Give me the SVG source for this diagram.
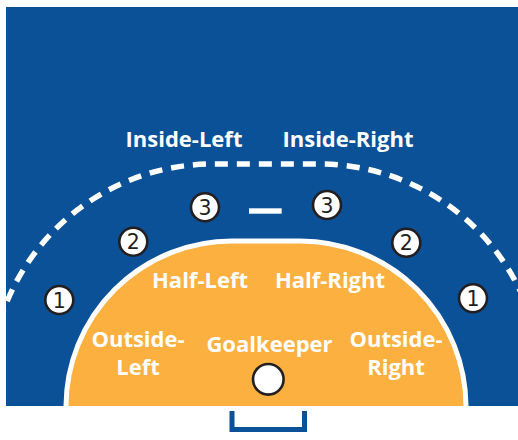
<svg xmlns="http://www.w3.org/2000/svg" width="518" height="440" viewBox="0 0 518 440">
<style>
.lbl{font-family:"Open Sans","Noto Sans",sans-serif;font-weight:700;font-size:22px;fill:#ffffff;text-anchor:middle}
.num{font-family:"DejaVu Sans",sans-serif;font-size:20.5px;fill:#231f20;text-anchor:middle}
.pos{fill:#ffffff;stroke:#231f20;stroke-width:2.6}
</style>
<defs>
<clipPath id="court"><rect x="6" y="7" width="512" height="399"/></clipPath>
</defs>
<g id="court-bg">
<rect x="6" y="7" width="512" height="399" fill="#0b5197"/>
</g>
<g id="connectors">
<path d="M -10,387 A 223 223 0 0 1 213,164 H 319 A 223 223 0 0 1 542,387" fill="none" stroke="#ffffff" stroke-width="5.5" stroke-dasharray="13 9" clip-path="url(#court)"/>
</g>
<g id="goal-area">
<path d="M 66,406 A 166 166 0 0 1 232,241 H 300 A 166 166 0 0 1 466,406 Z" fill="#fbb040"/>
<path d="M 66,406 A 166 166 0 0 1 232,241 H 300 A 166 166 0 0 1 466,406" fill="none" stroke="#ffffff" stroke-width="5"/>
</g>
<g id="goal">
<path d="M 232,411 V 429.5 H 304.5 V 411" fill="none" stroke="#0b5197" stroke-width="5"/>
</g>
<g id="free-throw-mark">
<rect x="249" y="208.3" width="32.7" height="5.4" fill="#ffffff"/>
</g>
<g id="goalkeeper-spot">
<circle class="pos" cx="268.3" cy="379.3" r="15.3" stroke-width="2.7"/>
</g>
<g id="pos-1-left"><circle class="pos" cx="59.3" cy="300" r="14"/><text class="num" x="59.3" y="307.5">1</text></g>
<g id="pos-2-left"><circle class="pos" cx="133.3" cy="241.7" r="14"/><text class="num" x="133.3" y="249.2">2</text></g>
<g id="pos-3-left"><circle class="pos" cx="205" cy="207.3" r="14"/><text class="num" x="205" y="214.8">3</text></g>
<g id="pos-3-right"><circle class="pos" cx="327" cy="205" r="14"/><text class="num" x="327" y="212.5">3</text></g>
<g id="pos-2-right"><circle class="pos" cx="406.3" cy="242.7" r="14"/><text class="num" x="406.3" y="250.2">2</text></g>
<g id="pos-1-right"><circle class="pos" cx="473" cy="298.3" r="14"/><text class="num" x="473" y="305.8">1</text></g>
<g id="label-inside-left"><text class="lbl" x="184" y="147">Inside-Left</text></g>
<g id="label-inside-right"><text class="lbl" x="348" y="147">Inside-Right</text></g>
<g id="label-half-left"><text class="lbl" x="200" y="288">Half-Left</text></g>
<g id="label-half-right"><text class="lbl" x="330" y="288">Half-Right</text></g>
<g id="label-outside-left"><text class="lbl" x="138" y="346.5">Outside-</text><text class="lbl" x="138" y="375">Left</text></g>
<g id="label-goalkeeper"><text class="lbl" x="269.5" y="352">Goalkeeper</text></g>
<g id="label-outside-right"><text class="lbl" x="396" y="346.5">Outside-</text><text class="lbl" x="396" y="375">Right</text></g>
</svg>
